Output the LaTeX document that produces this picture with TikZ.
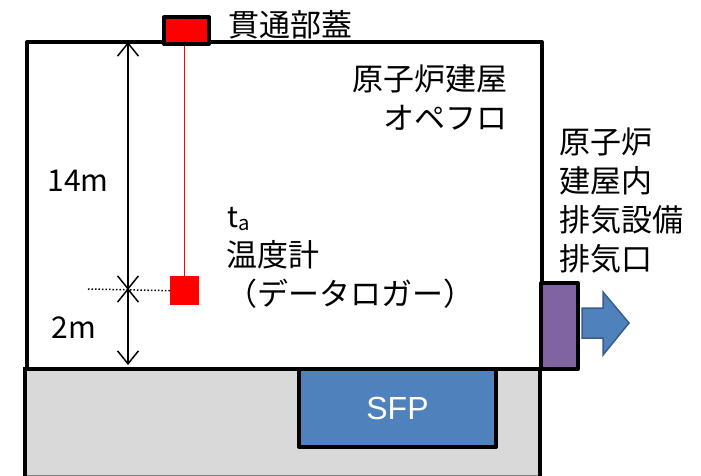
\documentclass[tikz,border=0pt]{standalone}
\usepackage{fontspec}
\setmainfont{Noto Sans CJK JP}
\newfontfamily\sfpfont{Liberation Sans}
\usetikzlibrary{arrows.meta}
\definecolor{floorgray}{HTML}{D9D9D9}
\definecolor{sfpblue}{HTML}{4F81BD}
\definecolor{arrowedge}{HTML}{385D8A}
\definecolor{ventpurple}{HTML}{8064A2}
\definecolor{lidred}{HTML}{FF0000}
\tikzset{
  heavy/.style={draw=black, line width=4pt, line join=round},
  lbl/.style={inner sep=0pt, font=\fontsize{31}{39}\selectfont, align=left},
  dimlbl/.style={inner sep=0pt, font=\fontsize{30}{34}\selectfont},
  dimarrow/.style={line width=1.5pt, {Straight Barb[length=13pt,width=21pt,line width=1.5pt]}-{Straight Barb[length=13pt,width=21pt,line width=1.5pt]}},
}
\begin{document}
\begin{tikzpicture}[x=1pt,y=-1pt]
\useasboundingbox (0,0) rectangle (701,476);
% floor
\fill[floorgray] (25,367) rectangle (540,476);
\draw[gray, line width=0.8pt] (25,475.5) -- (540,475.5);
\draw[black, line width=4pt] (25,367) -- (25,476);
\draw[black, line width=4pt] (540,367) -- (540,476);
% building
\node[heavy, fill=white, minimum width=515pt, minimum height=327pt, inner sep=0pt, anchor=north west] (bldg) at (25,40) {};
% SFP
\node[heavy, fill=sfpblue, minimum width=197pt, minimum height=78pt, inner sep=0pt, anchor=north west,
      text=white, font=\sfpfont\fontsize{32}{36}\selectfont] (sfp) at (297,367) {SFP};
% lid
\node[heavy, fill=lidred, minimum width=45pt, minimum height=27pt, inner sep=0pt, anchor=north west] (lid) at (162,15) {};
% sensor
\node[fill=lidred, minimum size=29pt, inner sep=0pt, anchor=north west] (sensor) at (170,276) {};
\draw[lidred, line width=1.2pt] (lid.south -| 184.5,0) -- (sensor.north -| 184.5,0);
% dotted reference line
\coordinate (dotL) at (88,289);
\draw[line width=1.5pt, dotted] (dotL) -- (sensor.west);
% dimension arrows
\coordinate (dimTop) at (128,42);
\coordinate (dimMid) at (128,289);
\coordinate (dimBot) at (128,365);
\draw[dimarrow] (dimTop) -- ([yshift=-1pt]dimMid);
\draw[dimarrow] ([yshift=1pt]dimMid) -- (dimBot);
\node[dimlbl] (l14) at (78,181) {14m};
\node[dimlbl] (l2) at (74,328) {2m};
% vent
\node[heavy, fill=ventpurple, minimum width=37pt, minimum height=86pt, inner sep=0pt, anchor=north west] (vent) at (539,281) {};
\draw[fill=sfpblue, draw=arrowedge, line width=1.5pt, line join=miter]
  (582,308) -- (603,308) -- (603,292) -- (629,323) -- (603,355) -- (603,338) -- (582,338) -- cycle;
% labels
\node[lbl, anchor=west] (lidlbl) at (228,25) {貫通部蓋};
\node[lbl, anchor=north east, align=right] (roomlbl) at (508,65) {原子炉建屋\\オペフロ};
\node[inner sep=0pt, anchor=west, font=\fontsize{29}{30}\selectfont] (ta) at (227,219) {t\textsubscript{a}};
\node[lbl, anchor=north west] (thermo) at (226,240) {温度計\\（データロガー）};
\node[lbl, anchor=north west] (ventlbl) at (559,128) {原子炉\\建屋内\\排気設備\\排気口};
\end{tikzpicture}
\end{document}
